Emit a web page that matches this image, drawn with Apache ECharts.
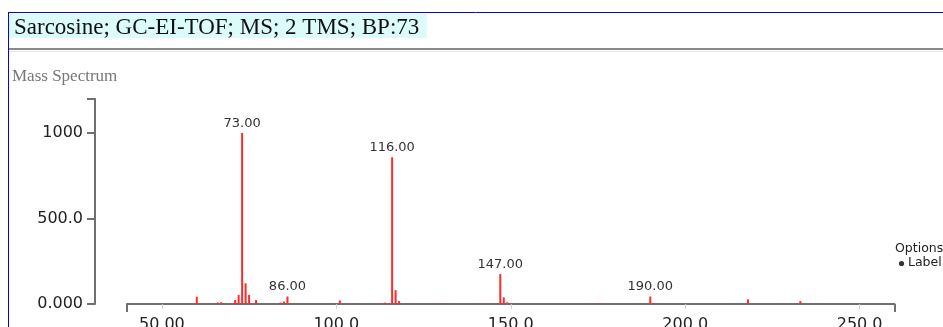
<!DOCTYPE html>
<html>
<head>
<meta charset="utf-8">
<script src="https://cdn.jsdelivr.net/npm/echarts@6/dist/echarts.min.js"></script>
<style>
html,body{margin:0;padding:0;background:#fff;}
#chart{width:943px;height:327px;}
</style>
</head>
<body>
<div id="chart"></div>
<script>
var titleText = 'Sarcosine; GC-EI-TOF; MS; 2 TMS; BP:73';
var subTitle = 'Mass Spectrum';
var mzValues = [60, 61, 66, 67, 70, 71, 72, 73, 74, 75, 77, 82, 84, 85, 86, 88, 101, 113, 114, 116, 117, 118, 121, 130, 131, 134, 144, 147, 148, 149, 166, 175, 185, 190, 191, 218, 233];
var intensities = [43, 4, 9, 10, 4, 23, 53, 1000, 121, 53, 23, 2, 8, 14, 44, 3, 21, 3, 8, 858, 81, 17, 2, 4, 3, 2, 4, 175, 39, 10, 2, 6, 2, 44, 5, 27, 17];
var labeledPeaks = [73, 86, 116, 147, 190];
var xTicks = [50, 100, 150, 200, 250];
var yTicks = [0, 500, 1000];
var xRange = [40, 260];
var yRange = [0, 1200];

var seriesData = mzValues.map(function (mz, i) {
  var item = { value: [mz, intensities[i]] };
  if (labeledPeaks.indexOf(mz) >= 0) {
    item.label = { show: true };
  }
  return item;
});

var chart = echarts.init(document.getElementById('chart'), null, { renderer: 'canvas' });
chart.setOption({
  animation: false,
  backgroundColor: '#fff',
  title: {
    text: titleText,
    left: 9,
    top: 15,
    padding: [0, 5, 0, 5],
    textStyle: { fontFamily: 'Liberation Serif', fontSize: 23, lineHeight: 26, fontWeight: 'normal', color: '#111' }
  },
  graphic: [
    { type: 'rect', shape: { x: 9, y: 14, width: 418, height: 24 }, style: { fill: '#dcfcfc' }, z: -1 },
    { type: 'line', shape: { x1: 8.5, y1: 12, x2: 8.5, y2: 327 }, style: { stroke: '#0000ff', lineWidth: 1 } },
    { type: 'line', shape: { x1: 8, y1: 12.5, x2: 943, y2: 12.5 }, style: { stroke: '#0000ff', lineWidth: 1 } },
    { type: 'line', shape: { x1: 9, y1: 49, x2: 943, y2: 49 }, style: { stroke: '#8a8a8a', lineWidth: 2 } },
    { type: 'line', shape: { x1: 9, y1: 51.5, x2: 943, y2: 51.5 }, style: { stroke: '#e6e6e6', lineWidth: 1 } },
    { type: 'text', left: 12, top: 68, style: { text: subTitle, fontFamily: 'Liberation Serif', fontSize: 17, fill: '#777' } },
    { type: 'text', left: 895, top: 242, style: { text: 'Options', fontFamily: 'DejaVu Sans', fontSize: 12.5, fill: '#222' } },
    { type: 'circle', shape: { cx: 901.5, cy: 263.5, r: 2.6 }, style: { fill: '#333' } },
    { type: 'text', left: 908, top: 256, style: { text: 'Label', fontFamily: 'DejaVu Sans', fontSize: 12.5, fill: '#222' } }
  ],
  grid: { left: 127, right: 48.5, top: 98.8, bottom: 23, containLabel: false, outerBoundsMode: 'none' },
  xAxis: [
    {
      type: 'value', min: xRange[0], max: xRange[1], position: 'bottom',
      axisLine: { show: true, lineStyle: { color: '#707070', width: 2 } },
      axisTick: { show: true, customValues: xRange, length: 8, inside: false, lineStyle: { color: '#707070', width: 2 } },
      axisLabel: { show: false },
      splitLine: { show: false }
    },
    {
      type: 'value', min: xRange[0], max: xRange[1], position: 'bottom', offset: 0,
      axisLine: { show: false },
      axisTick: { show: true, customValues: xTicks, length: 5, lineStyle: { color: '#d0d0d0', width: 1 } },
      axisLabel: {
        show: true, customValues: xTicks, margin: 13,
        fontFamily: 'DejaVu Sans', fontSize: 16, color: '#222',
        formatter: function (v) { return Number(v).toPrecision(4); }
      },
      splitLine: { show: false }
    }
  ],
  yAxis: {
    type: 'value', min: yRange[0], max: yRange[1], offset: 32,
    axisLine: { show: true, lineStyle: { color: '#707070', width: 2 } },
    axisTick: { show: true, customValues: yTicks.concat([yRange[1]]), length: 8, lineStyle: { color: '#707070', width: 2 } },
    axisLabel: {
      show: true, customValues: yTicks, margin: 12,
      fontFamily: 'DejaVu Sans', fontSize: 16, color: '#222',
      formatter: function (v) { return Number(v).toPrecision(4); }
    },
    splitLine: { show: false }
  },
  series: [{
    type: 'bar',
    xAxisIndex: 0,
    barWidth: 2,
    itemStyle: { color: '#ff2a2a' },
    label: {
      show: false, position: 'top', distance: 3,
      fontFamily: 'DejaVu Sans', fontSize: 13, color: '#333',
      formatter: function (p) { return p.value[0].toFixed(2); }
    },
    data: seriesData
  }]
});
</script>
</body>
</html>
